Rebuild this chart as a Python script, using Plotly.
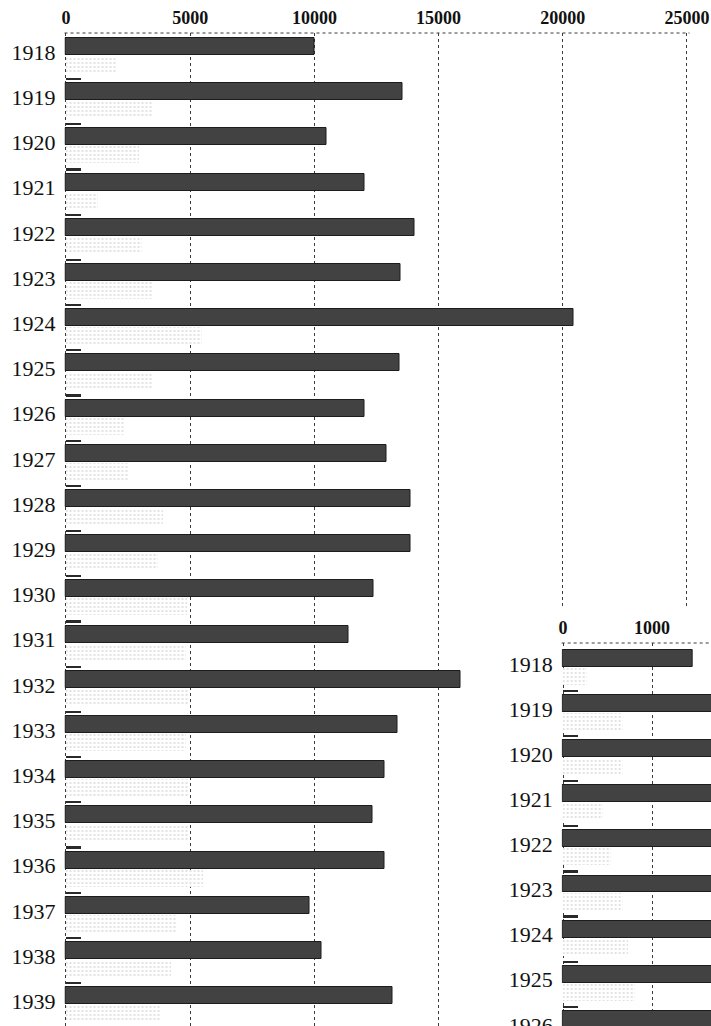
import plotly.graph_objects as go

# ---------------- data ----------------
years = [1918, 1919, 1920, 1921, 1922, 1923, 1924, 1925, 1926, 1927, 1928,
         1929, 1930, 1931, 1932, 1933, 1934, 1935, 1936, 1937, 1938, 1939]
dark_vals = [10000, 13550, 10500, 12000, 14050, 13480, 20450, 13440, 12000, 12920, 13880,
             13880, 12390, 11390, 15900, 13360, 12840, 12350, 12840, 9820, 10300, 13160]
light_vals = [2000, 3500, 2900, 1250, 3050, 3450, 5470, 3450, 2370, 2500, 3900,
              3700, 4850, 4800, 4900, 4800, 4900, 4900, 5500, 4400, 4200, 3800]
tiny_vals = [600, 600, 600, 600, 600, 600, 600, 600, 600, 600, 600,
             600, 600, 600, 600, 600, 600, 600, 600, 600, 600, 600]
main_ticks = [0, 5000, 10000, 15000, 20000, 25000]

inset_years = [1918, 1919, 1920, 1921, 1922, 1923, 1924, 1925, 1926]
inset_dark = [1460, 1850, 1800, 1820, 1900, 1850, 1900, 1880, 1850]
inset_light = [270, 675, 675, 450, 530, 675, 730, 810, 700]
inset_tiny = [170, 170, 170, 170, 170, 170, 170, 170, 170]
inset_ticks = [0, 1000, 2000]

# ---------------- style ----------------
SERIF = "Liberation Serif"
DARK = "#424242"
W, H = 711, 1026

# bar geometry (in category units, axis reversed so + is downward)
D_OFF, D_W = -0.31, 0.376
L_OFF, L_W = 0.088, 0.376
T_OFF, T_W = 0.575, 0.05

light_pattern = dict(shape=".", fgcolor="#b8b8b8", bgcolor="white", size=4, solidity=0.22)


def add_bars(fig, yrs, dv, lv, tv, xa, ya):
    fig.add_trace(go.Bar(y=yrs, x=dv, orientation="h", offset=D_OFF, width=D_W,
                         marker=dict(color=DARK, line=dict(color="#1c1c1c", width=1)),
                         xaxis=xa, yaxis=ya, showlegend=False, hoverinfo="x+y"))
    fig.add_trace(go.Bar(y=yrs, x=lv, orientation="h", offset=L_OFF, width=L_W,
                         marker=dict(color="white", pattern=light_pattern, line=dict(width=0)),
                         xaxis=xa, yaxis=ya, showlegend=False, hoverinfo="x+y"))
    fig.add_trace(go.Bar(y=yrs, x=tv, orientation="h", offset=T_OFF, width=T_W,
                         marker=dict(color="#2a2a2a", line=dict(width=0)),
                         xaxis=xa, yaxis=ya, showlegend=False, hoverinfo="x+y"))


fig = go.Figure()
add_bars(fig, years, dark_vals, light_vals, tiny_vals, "x", "y")
# cover subplot (white background hiding main grid under the inset)
fig.add_trace(go.Scatter(x=[], y=[], xaxis="x2", yaxis="y2", showlegend=False))
add_bars(fig, inset_years, inset_dark, inset_light, inset_tiny, "x3", "y3")

# main axes: 0 -> px 66, 25000 -> px 687
px_per = (687 - 66) / 25000.0
x_lo = -60
x_hi = 25100
main_left = 66 + x_lo * px_per
main_right = 66 + x_hi * px_per
main_top = 33
c1918 = 52
step = 45.2
y_top = 1918 - (c1918 - main_top) / step
y_bot = 1918 + (H - c1918) / step

ins_px_per = 89 / 1000.0
ins_lo = -15
ins_left = 563 + ins_lo * ins_px_per
ins_hi = (W - 563) / ins_px_per
ins_top = 643
ins_c = 664
ins_step = 45.1
iy_top = 1918 - (ins_c - ins_top) / ins_step
iy_bot = 1918 + (H - ins_c) / ins_step

tickfont_x = dict(family=SERIF, size=18, color="#111", weight="bold")
tickfont_y = dict(family=SERIF, size=22, color="#111")

fig.update_layout(
    width=W, height=H,
    margin=dict(l=0, r=0, t=0, b=0, autoexpand=False),
    paper_bgcolor="white", plot_bgcolor="white",
    barmode="overlay", bargap=0,
    xaxis=dict(domain=[main_left / W, main_right / W], range=[x_lo, x_hi], side="top",
               tickvals=main_ticks, ticktext=[str(v) for v in main_ticks],
               tickfont=tickfont_x, showgrid=True, gridcolor="#3a3a3a", gridwidth=1,
               griddash="dot", zeroline=False, showline=False, ticks="",
               ticklabelstandoff=4, anchor="y", fixedrange=True, automargin=False),
    yaxis=dict(domain=[0, 1 - main_top / H], range=[y_bot, y_top],
               tickvals=years, ticktext=[str(y) for y in years], tickfont=tickfont_y,
               showgrid=False, zeroline=False, showline=False, ticks="",
               ticklabelstandoff=8, anchor="x", fixedrange=True, automargin=False),
    xaxis2=dict(domain=[470 / W, 1], range=[0, 1], visible=False, anchor="y2",
                automargin=False),
    yaxis2=dict(domain=[0, 1 - 609 / H], range=[0, 1], visible=False, anchor="x2",
                automargin=False),
    xaxis3=dict(domain=[ins_left / W, 1], range=[ins_lo, ins_hi], side="top",
                tickvals=inset_ticks, ticktext=[str(v) for v in inset_ticks],
                tickfont=tickfont_x, showgrid=True, gridcolor="#3a3a3a", gridwidth=1,
                griddash="dot", zeroline=False, showline=False, ticks="",
                ticklabelstandoff=4, anchor="y3", fixedrange=True, automargin=False),
    yaxis3=dict(domain=[0, 1 - ins_top / H], range=[iy_bot, iy_top],
                tickvals=inset_years, ticktext=[str(y) for y in inset_years],
                tickfont=tickfont_y, showgrid=False, zeroline=False, showline=False,
                ticks="", ticklabelstandoff=8, anchor="x3", fixedrange=True,
                automargin=False, ticklabeloverflow="allow"),
    shapes=[
        dict(type="line", xref="x domain", yref="y domain", x0=0, x1=1, y0=1, y1=1,
             line=dict(color="#3a3a3a", width=1, dash="dot")),
        dict(type="line", xref="x3 domain", yref="y3 domain", x0=0, x1=1, y0=1, y1=1,
             line=dict(color="#3a3a3a", width=1, dash="dot")),
    ],
)

fig.write_html(
    "out.html",
    config={"displayModeBar": False},
    post_script="document.body.style.margin='0';document.body.style.overflow='hidden';",
)
